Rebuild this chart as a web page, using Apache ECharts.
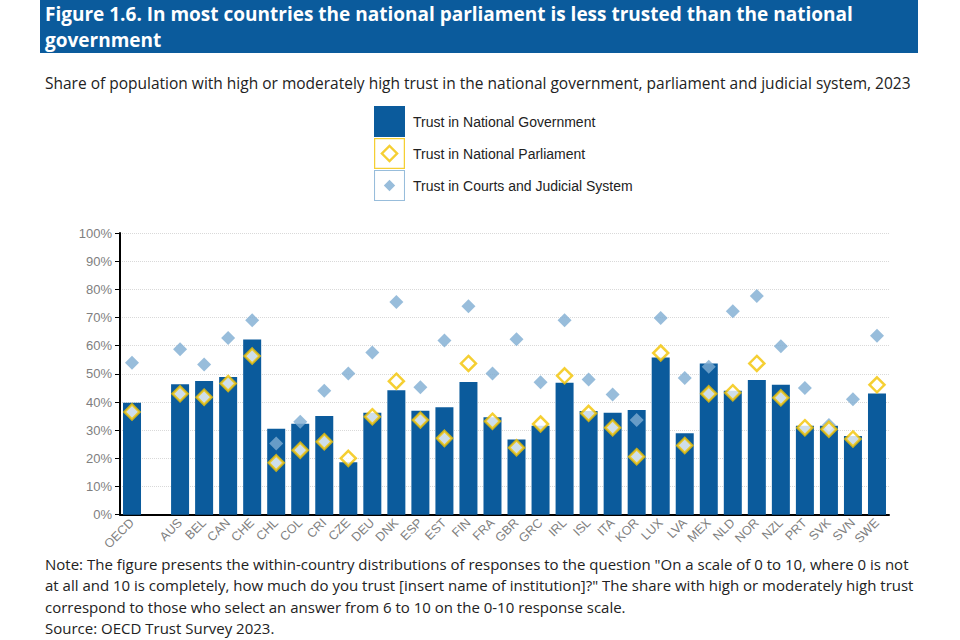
<!DOCTYPE html>
<html>
<head>
<meta charset="utf-8">
<script src="https://cdn.jsdelivr.net/npm/echarts@6/dist/echarts.min.js"></script>
<style>
  html, body { margin: 0; padding: 0; background: #ffffff; }
  #chart { width: 960px; height: 640px; }
</style>
</head>
<body>
<div id="chart"></div>
<script>
// ---- Data ----
const categories = ['OECD', '', 'AUS', 'BEL', 'CAN', 'CHE', 'CHL', 'COL', 'CRI', 'CZE', 'DEU', 'DNK', 'ESP', 'EST', 'FIN', 'FRA', 'GBR', 'GRC', 'IRL', 'ISL', 'ITA', 'KOR', 'LUX', 'LVA', 'MEX', 'NLD', 'NOR', 'NZL', 'PRT', 'SVK', 'SVN', 'SWE'];
const government = [39.7, null, 46.3, 47.5, 48.9, 62.2, 30.5, 32.3, 35.0, 18.6, 36.2, 44.2, 36.9, 38.1, 47.1, 34.6, 26.7, 31.6, 46.8, 36.8, 36.2, 37.2, 55.8, 28.9, 53.7, 44.0, 47.8, 46.1, 31.6, 31.6, 27.9, 43.0];
const parliament = [36.5, null, 42.9, 41.7, 46.6, 56.3, 18.4, 22.9, 25.9, 20.0, 34.8, 47.4, 33.6, 27.1, 53.7, 33.2, 23.8, 32.2, 49.3, 36.0, 30.9, 20.6, 57.4, 24.6, 42.9, 43.3, 53.7, 41.5, 30.9, 30.3, 26.9, 46.1];
const courts = [53.9, null, 58.7, 53.3, 62.7, 69.0, 25.3, 33.0, 44.0, 50.1, 57.6, 75.5, 45.2, 61.8, 74.0, 50.1, 62.3, 47.0, 69.0, 48.0, 42.7, 33.6, 69.8, 48.5, 52.5, 72.2, 77.6, 59.8, 45.0, 31.8, 41.0, 63.5];
const yTicks = [0, 10, 20, 30, 40, 50, 60, 70, 80, 90, 100];

const seriesNames = ['Trust in National Government', 'Trust in National Parliament', 'Trust in Courts and Judicial System'];
const titleLines = ['Figure 1.6. In most countries the national parliament is less trusted than the national', 'government'];
const subtitle = 'Share of population with high or moderately high trust in the national government, parliament and judicial system, 2023';
const noteLines = [
  'Note: The figure presents the within-country distributions of responses to the question "On a scale of 0 to 10, where 0 is not',
  'at all and 10 is completely, how much do you trust [insert name of institution]?" The share with high or moderately high trust',
  'correspond to those who select an answer from 6 to 10 on the 0-10 response scale.',
  'Source: OECD Trust Survey 2023.'
];

const BLUE = '#0b5b9c';
const YELLOW = '#f2c300';
const LIGHT = '#7eadd2';

const parlIcon = 'path://M0 0L30 0L30 30L0 30Z M1.2 1.2L1.2 28.8L28.8 28.8L28.8 1.2Z M15 6L24 15L15 24L6 15Z M15 9.2L9.2 15L15 20.8L20.8 15Z';
const courtIcon = 'path://M0 0L30 0L30 30L0 30Z M1 1L1 29L29 29L29 1Z M15 9.5L20.5 15L15 20.5L9.5 15Z';

const chart = echarts.init(document.getElementById('chart'), null, { renderer: 'svg' });

const graphics = [
  { type: 'rect', shape: { x: 40, y: 0, width: 878, height: 53 }, style: { fill: BLUE }, silent: true },
  { type: 'text', left: 45, top: 4, style: { text: titleLines[0], fill: '#ffffff', font: 'bold 19px "Open Sans"' } },
  { type: 'text', left: 45, top: 30, style: { text: titleLines[1], fill: '#ffffff', font: 'bold 19px "Open Sans"' } },
  { type: 'text', left: 45, top: 75, style: { text: subtitle, fill: '#222222', font: '15.5px "Open Sans"' } }
];
noteLines.forEach(function (t, i) {
  graphics.push({ type: 'text', left: 45, top: 556 + i * 21.5, style: { text: t, fill: '#222222', font: '15px "Open Sans"' } });
});

chart.setOption({
  animation: false,
  backgroundColor: '#ffffff',
  textStyle: { fontFamily: 'Liberation Sans' },
  graphic: graphics,
  legend: {
    orient: 'vertical',
    left: 369,
    top: 101,
    itemWidth: 31,
    itemHeight: 31,
    itemGap: 1,
    textStyle: { fontSize: 14, color: '#222222', fontFamily: 'Liberation Sans', padding: [0, 0, 0, 3] },
    data: [
      { name: seriesNames[0], icon: 'rect', itemStyle: { color: BLUE, borderWidth: 0 } },
      { name: seriesNames[1], icon: parlIcon, itemStyle: { color: YELLOW, borderWidth: 0 } },
      { name: seriesNames[2], icon: courtIcon, itemStyle: { color: LIGHT, borderWidth: 0 } }
    ]
  },
  grid: { left: 120, right: 71, top: 233, bottom: 125.3, containLabel: false },
  xAxis: {
    type: 'category',
    data: categories,
    axisLine: { lineStyle: { color: '#000000', width: 2 } },
    axisTick: { show: false },
    axisLabel: { rotate: 45, color: '#808080', fontSize: 12.5, interval: 0, margin: 6 }
  },
  yAxis: {
    type: 'value',
    min: yTicks[0],
    max: yTicks[yTicks.length - 1],
    interval: 10,
    axisLine: { show: true, lineStyle: { color: '#000000', width: 2 } },
    axisTick: { show: true, length: 5, lineStyle: { color: '#000000' } },
    axisLabel: { formatter: '{value}%', color: '#808080', fontSize: 13, margin: 8 },
    splitLine: { show: true, lineStyle: { color: '#d9d9d9', type: 'dotted', width: 1 } }
  },
  series: [
    {
      name: seriesNames[0],
      type: 'bar',
      data: government,
      barWidth: 18,
      itemStyle: { color: BLUE }
    },
    {
      name: seriesNames[2],
      type: 'scatter',
      data: courts,
      symbol: 'diamond',
      symbolSize: 14,
      itemStyle: { color: LIGHT },
      z: 3
    },
    {
      name: seriesNames[1],
      type: 'scatter',
      data: parliament,
      symbol: 'diamond',
      symbolSize: 15,
      itemStyle: { color: '#ffffff', borderColor: YELLOW, borderWidth: 2.5 },
      z: 4
    }
  ]
});
</script>
</body>
</html>
